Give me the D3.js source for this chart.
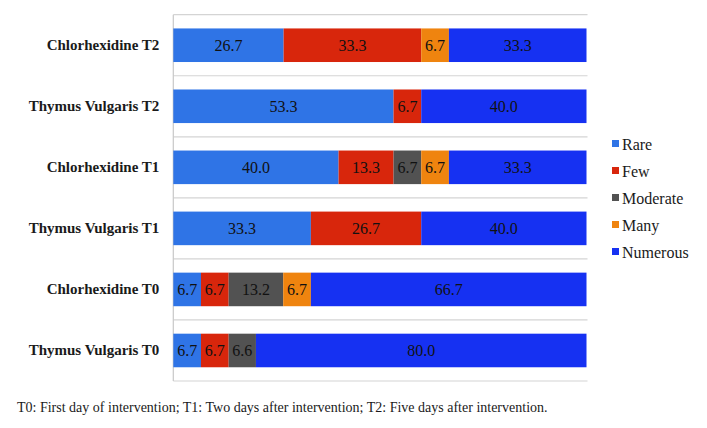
<!DOCTYPE html>
<html>
<head>
<meta charset="utf-8">
<script src="https://cdn.jsdelivr.net/npm/d3@7"></script>
<style>
  body { margin: 0; background: #fff; }
  text { font-family: "Liberation Serif", "Times New Roman", serif; }
</style>
</head>
<body>
<svg id="chart" width="707" height="428"></svg>
<script>
// categories, top to bottom
var groups = ["Chlorhexidine T2", "Thymus Vulgaris T2", "Chlorhexidine T1",
              "Thymus Vulgaris T1", "Chlorhexidine T0", "Thymus Vulgaris T0"];
var levels = ["Rare", "Few", "Moderate", "Many", "Numerous"];

// percentages per level, same order as groups
var rare     = [26.7, 53.3, 40.0, 33.3, 6.7, 6.7];
var few      = [33.3, 6.7, 13.3, 26.7, 6.7, 6.7];
var moderate = [0, 0, 6.7, 0, 13.2, 6.6];
var many     = [6.7, 0, 6.7, 0, 6.7, 0];
var numerous = [33.3, 40.0, 33.3, 40.0, 66.7, 80.0];

var caption = "T0: First day of intervention; T1: Two days after intervention; T2: Five days after intervention.";

var series = [rare, few, moderate, many, numerous];

// build rows for d3.stack
var rows = groups.map(function(g, i) {
    var r = { group: g };
    levels.forEach(function(l, j) { r[l] = series[j][i]; });
    return r;
});

var plotLeft = 173.3, plotRight = 586.5, plotTop = 14.7, plotBottom = 381;

var color = d3.scaleOrdinal()
    .domain(levels)
    .range(["#2f74e6", "#d8260c", "#525252", "#ef840f", "#1631f2"]);

var x = d3.scaleLinear().domain([0, 100]).range([plotLeft, plotRight]);

var y = d3.scaleBand()
    .domain(groups)
    .range([plotTop, plotBottom])
    .paddingInner(0.45)
    .paddingOuter(0.225);

var svg = d3.select("#chart");

// gridlines at category boundaries
var step = y.step();
var bounds = d3.range(groups.length + 1).map(function(i) { return plotTop + i * step; });
svg.append("g").selectAll("line")
    .data(bounds)
    .enter().append("line")
    .attr("x1", plotLeft).attr("x2", plotRight + 1)
    .attr("y1", function(d) { return d; })
    .attr("y2", function(d) { return d; })
    .attr("stroke", "#d4d4d4")
    .attr("stroke-width", 1.2);

svg.append("line")
    .attr("x1", plotLeft).attr("x2", plotLeft)
    .attr("y1", plotTop).attr("y2", plotBottom)
    .attr("stroke", "#c8c8c8")
    .attr("stroke-width", 1.2);

var stack = d3.stack().keys(levels);
var layers = stack(rows);

var layer = svg.append("g").selectAll("g")
    .data(layers)
    .enter().append("g")
    .attr("fill", function(d) { return color(d.key); });

layer.selectAll("rect")
    .data(function(d) { return d; })
    .enter().append("rect")
    .attr("x", function(d) { return x(d[0]); })
    .attr("y", function(d) { return y(d.data.group); })
    .attr("width", function(d) { return x(d[1]) - x(d[0]); })
    .attr("height", y.bandwidth());

// value labels inside segments
layer.selectAll("text")
    .data(function(d) { return d.filter(function(s) { return s[1] - s[0] > 0; }); })
    .enter().append("text")
    .attr("x", function(d) { return (x(d[0]) + x(d[1])) / 2; })
    .attr("y", function(d) { return y(d.data.group) + y.bandwidth() / 2; })
    .attr("dy", "0.35em")
    .attr("text-anchor", "middle")
    .attr("fill", "#111")
    .style("font-size", "16px")
    .text(function(d) { return (d[1] - d[0]).toFixed(1); });

// category labels
var yAxis = d3.axisLeft(y).tickSize(0).tickPadding(14);
var ax = svg.append("g")
    .attr("transform", "translate(" + plotLeft + ",0)")
    .call(yAxis);
ax.select(".domain").remove();
ax.selectAll("text")
    .style("font-family", "'Liberation Serif', serif")
    .style("font-size", "15px")
    .style("font-weight", "bold")
    .attr("fill", "#1a1a1a");

// legend
var legend = svg.append("g").selectAll("g")
    .data(levels)
    .enter().append("g")
    .attr("transform", function(d, i) { return "translate(612," + (144 + i * 27) + ")"; });

legend.append("rect")
    .attr("x", 0).attr("y", -4)
    .attr("width", 7).attr("height", 7)
    .attr("fill", function(d) { return color(d); });

legend.append("text")
    .attr("x", 10)
    .attr("dy", "0.35em")
    .style("font-size", "16px")
    .attr("fill", "#1a1a1a")
    .text(function(d) { return d; });

svg.append("text")
    .attr("x", 17)
    .attr("y", 412)
    .style("font-size", "14px")
    .attr("fill", "#1a1a1a")
    .text(caption);
</script>
</body>
</html>
